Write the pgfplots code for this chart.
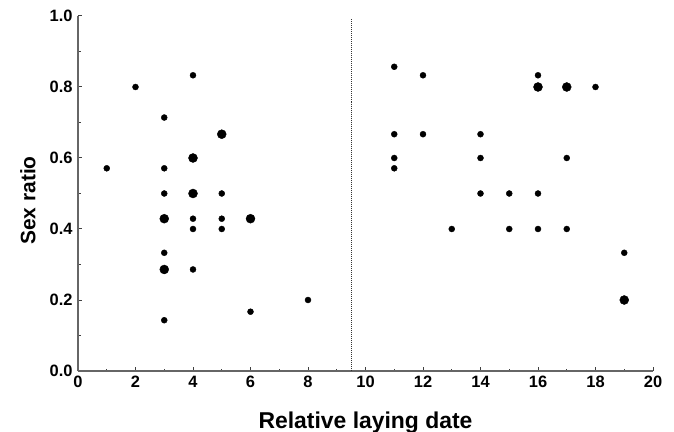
\documentclass[border=0pt]{standalone}
\usepackage{fontspec}
\setmainfont{Liberation Sans}
\usepackage{pgfplots}
\pgfplotsset{compat=1.18}
\begin{document}
\begin{tikzpicture}
\path[use as bounding box] (-78bp,-61bp) rectangle (596bp,371bp);
\begin{axis}[
  at={(0,0)}, anchor=origin,
  scale only axis, width=575bp, height=355bp,
  xmin=0, xmax=20, ymin=0, ymax=1,
  axis lines*=left,
  axis line style={-, draw=black!60, line width=1.6bp},
  xtick={0,2,...,20}, minor xtick={1,3,...,19},
  ytick={0,0.2,...,1.0}, minor ytick={0.1,0.3,...,0.9},
  tick align=inside,
  major tick length=4bp, minor tick length=2.5bp,
  tick style={black!75, line width=1bp},
  /pgf/number format/assume math mode=true,
  ticklabel style={font=\bfseries\fontsize{16.5}{16.5}\selectfont},
  yticklabel style={xshift=-2bp, /pgf/number format/.cd, fixed, fixed zerofill, precision=1},
  xticklabel style={yshift=-2bp, /pgf/number format/.cd, fixed, precision=0},
  xlabel={\bfseries\fontsize{23}{23}\selectfont Relative laying date},
  ylabel={\bfseries\fontsize{21}{21}\selectfont Sex ratio},
  xlabel style={at={(axis description cs:0.5,0)}, anchor=base, yshift=-57bp},
  ylabel style={at={(axis description cs:0,0.5)}, anchor=center, yshift=50bp, xshift=-7bp},
  clip=false,
]
\addplot[densely dotted, black!80, line width=1bp] coordinates {(9.5,0) (9.5,0.995)};
% small points
\addplot[only marks, mark=*, mark size=3bp, black] coordinates {
 (1,0.571) (2,0.8)
 (3,0.714) (3,0.571) (3,0.5) (3,0.333) (3,0.143)
 (4,0.833) (4,0.429) (4,0.4) (4,0.286)
 (5,0.5) (5,0.429) (5,0.4)
 (6,0.167) (8,0.2)
 (11,0.857) (11,0.667) (11,0.6) (11,0.571)
 (12,0.833) (12,0.667)
 (13,0.4)
 (14,0.667) (14,0.6) (14,0.5)
 (15,0.5) (15,0.4)
 (16,0.833) (16,0.5) (16,0.4)
 (17,0.6) (17,0.4)
 (18,0.8)
 (19,0.333)
};
% large points
\addplot[only marks, mark=*, mark size=4.5bp, black] coordinates {
 (3,0.429) (3,0.286)
 (4,0.6) (4,0.5)
 (5,0.667) (6,0.429)
 (16,0.8) (17,0.8) (19,0.2)
};
\end{axis}
\end{tikzpicture}
\end{document}
